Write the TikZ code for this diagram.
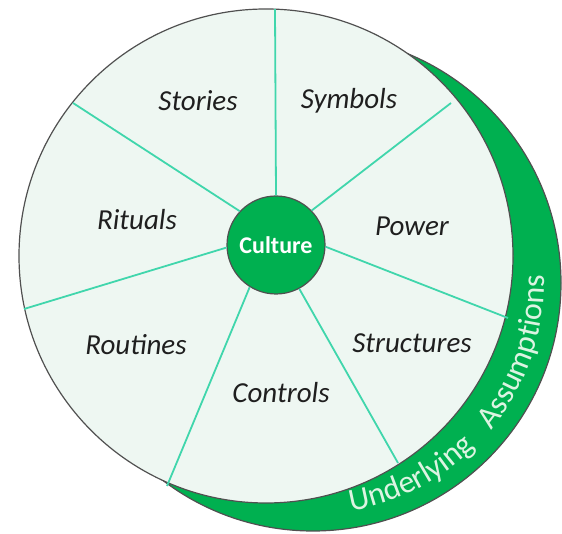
\documentclass[tikz,border=0pt]{standalone}
\usepackage{fontspec}
\setmainfont{Carlito}
\usetikzlibrary{decorations.text}
\definecolor{wheelGreen}{RGB}{0,176,80}
\definecolor{wheelFill}{RGB}{238,247,242}
\definecolor{spokeTeal}{RGB}{64,214,172}
\definecolor{edgeGrey}{RGB}{80,80,80}
\definecolor{bandText}{RGB}{220,244,226}
\tikzstyle{segment} = [font=\fontsize{29}{29}\selectfont\itshape, text=black!88]
\tikzstyle{hub} = [circle, fill=wheelGreen, draw=edgeGrey, line width=1.2pt, minimum size=98pt,
inner sep=0pt, text=white, font=\fontsize{24}{24}\selectfont\bfseries]
\tikzstyle{spoke} = [draw=spokeTeal, line width=1.8pt]
\tikzstyle{rim} = [draw=edgeGrey, line width=1.2pt]
\newcommand{\bandfont}{\fontsize{32}{32}\selectfont}

\begin{document}
\begin{tikzpicture}[x=1pt, y=1pt]
    \useasboundingbox (0,0) rectangle (562,534);

    % outer band and wheel
    \coordinate (bandC) at (313,251);
    \coordinate (wheelC) at (266,278);
    \draw[rim, fill=wheelGreen] (bandC) circle (248pt);
    \draw[rim, fill=wheelFill] (wheelC) circle (247pt);

    % band text
    \path[decorate, decoration={text along path, text color=bandText,
    text={|\bandfont|Underlying}, text align=left}]
    ([shift={(-80.5:231pt)}]bandC) arc[start angle=-80.5, end angle=-30, radius=231pt];
    \path[decorate, decoration={text along path, text color=bandText,
    text={|\bandfont|Assumptions}, text align=left}]
    ([shift={(-39.5:231pt)}]bandC) arc[start angle=-39.5, end angle=20, radius=231pt];

    % spoke ends on the rim
    \coordinate (s1) at (275,525);
    \coordinate (s2) at (451,431);
    \coordinate (s3) at (508,216);
    \coordinate (s4) at (398,71);
    \coordinate (s5) at (167,48);
    \coordinate (s6) at (24,225);
    \coordinate (s7) at (73,431);

    \node (culture) [hub] at (276,289) {Culture};

    \foreach \a/\e in {90/s1, 44/s2, 358/s3, 298/s4, 238/s5, 183/s6, 137/s7}
        \draw[spoke] (culture.\a) -- (\e);

    \node (stories) [segment] at (198,433) {Stories};
    \node (symbols) [segment] at (349,433) {Symbols};
    \node (rituals) [segment] at (137,314) {Rituals};
    \node (power) [segment] at (412,308) {Power};
    \node (routines) [segment] at (136,189) {Routines};
    \node (structures) [segment] at (412,191) {Structures};
    \node (controls) [segment] at (281,141) {Controls};

\end{tikzpicture}
\end{document}
